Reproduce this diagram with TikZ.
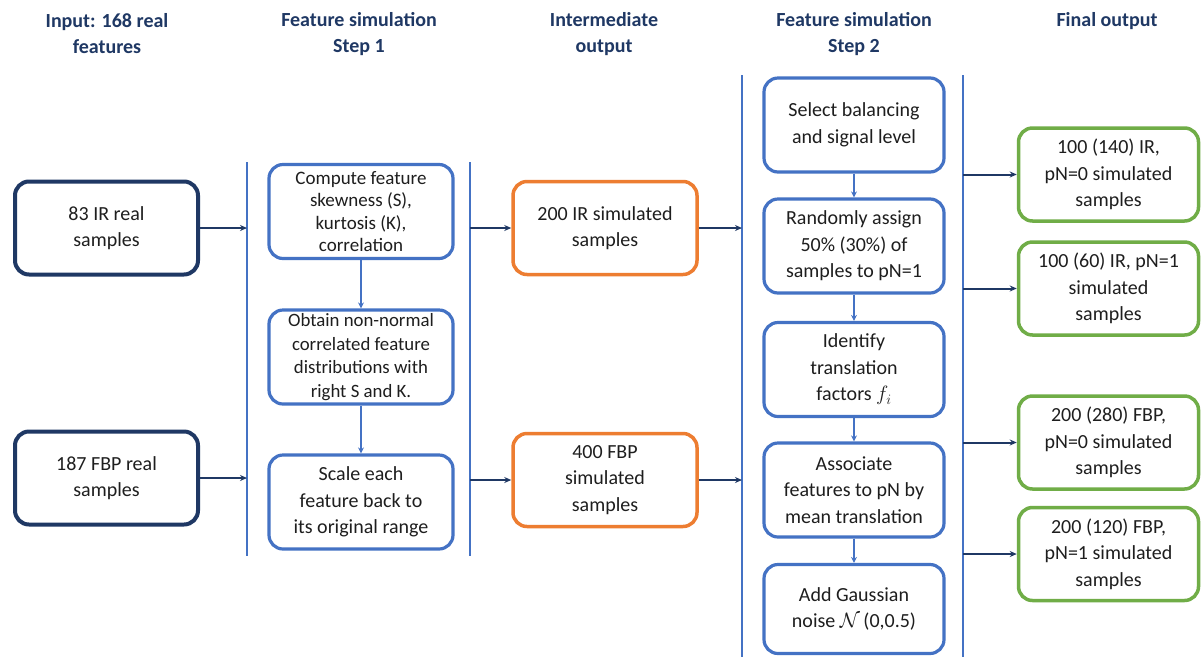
\documentclass[tikz,border=0pt]{standalone}
\usepackage{fontspec}
\setmainfont{Carlito}
\usetikzlibrary{arrows.meta}
\definecolor{navy}{HTML}{1F3864}
\definecolor{stepblue}{HTML}{4472C4}
\definecolor{simorange}{HTML}{ED7D31}
\definecolor{outgreen}{HTML}{70AD47}
\definecolor{txt}{HTML}{1E1E1E}
\begin{document}
\begin{tikzpicture}[x=1pt,y=-1pt,
  box/.style={draw, rounded corners=14pt, align=center, text=txt, inner sep=2pt,
    font=\fontsize{20}{26.5}\selectfont},
  inbox/.style={box, draw=navy, line width=4pt, minimum width=183pt, minimum height=93pt},
  stepbox/.style={box, draw=stepblue, line width=3.2pt, minimum width=184pt, minimum height=94pt},
  simbox/.style={box, draw=simorange, line width=3.5pt, minimum width=184pt, minimum height=93pt},
  outbox/.style={box, draw=outgreen, line width=3.5pt, minimum width=180pt, minimum height=93pt},
  smalltext/.style={font=\fontsize{19}{22.5}\selectfont},
  header/.style={align=center, text=navy, font=\fontsize{20}{26}\selectfont\bfseries},
  sep/.style={stepblue, line width=1.5pt},
  harrow/.style={navy, line width=2pt, -{Stealth[length=7pt,width=6pt]}},
  varrow/.style={stepblue, line width=1.5pt, -{Stealth[length=6pt,width=6pt]}}
]
\fill[white] (0,0) rectangle (1201,657);
\useasboundingbox (0,0) rectangle (1201,657);

% column headings
\node[header] (h1) at (107,34) {Input: 168 real\\features};
\node[header] (h2) at (359,34) {Feature simulation\\Step 1};
\node[header] (h3) at (604,34) {Intermediate\\output};
\node[header] (h4) at (854,34) {Feature simulation\\Step 2};
\node[header] (h5) at (1107,21) {Final output};

% column separators
\coordinate (l1t) at (247,162); \coordinate (l1b) at (247,556);
\coordinate (l2t) at (470,162); \coordinate (l2b) at (470,556);
\coordinate (l3t) at (742,75);  \coordinate (l3b) at (742,657);
\coordinate (l4t) at (963,75);  \coordinate (l4b) at (963,657);
\draw[sep] (l1t) -- (l1b);
\draw[sep] (l2t) -- (l2b);
\draw[sep] (l3t) -- (l3b);
\draw[sep] (l4t) -- (l4b);

% input samples
\node[inbox] (in1) at (106.5,228) {83 IR real\\samples};
\node[inbox] (in2) at (106.5,478) {187 FBP real\\samples};

% step 1
\node[stepbox, smalltext] (s1a) at (361,211.5) {Compute feature\\skewness (S),\\kurtosis (K),\\correlation};
\node[stepbox, font=\fontsize{18.8}{23.5}\selectfont] (s1b) at (361,357) {Obtain non-normal\\correlated feature\\distributions with\\right S and K.};
\node[stepbox] (s1c) at (361,502) {Scale each\\feature back to\\its original range};

% intermediate output
\node[simbox] (o1) at (605,228) {200 IR simulated\\samples};
\node[simbox] (o2) at (605,480) {400 FBP\\simulated\\samples};

% step 2
\node[stepbox, minimum width=180pt] (s2a) at (854,125) {Select balancing\\and signal level};
\node[stepbox, minimum width=180pt] (s2b) at (854,246) {Randomly assign\\50\% (30\%) of\\samples to pN=1};
\node[stepbox, minimum width=180pt] (s2c) at (854,369.5) {Identify\\translation\\factors $f_i$};
\node[stepbox, minimum width=180pt] (s2d) at (854,490) {Associate\\features to pN by\\mean translation};
\node[stepbox, minimum width=180pt, minimum height=89pt] (s2e) at (854,609) {Add Gaussian\\noise $\mathcal{N}\,$(0,0.5)};

% final output
\node[outbox] (g1) at (1108.5,174.5) {100 (140) IR,\\pN=0 simulated\\samples};
\node[outbox] (g2) at (1108.5,288.5) {100 (60) IR, pN=1\\simulated\\samples};
\node[outbox] (g3) at (1108.5,442.5) {200 (280) FBP,\\pN=0 simulated\\samples};
\node[outbox] (g4) at (1108.5,554) {200 (120) FBP,\\pN=1 simulated\\samples};

% flow between columns
\draw[harrow] (in1.east) -- (in1.east -| l1t);
\draw[harrow] (in2.east) -- (in2.east -| l1t);
\draw[harrow] (o1.west -| l2t) -- (o1.west);
\draw[harrow] (o2.west -| l2t) -- (o2.west);
\draw[harrow] (o1.east) -- (o1.east -| l3t);
\draw[harrow] (o2.east) -- (o2.east -| l3t);
\draw[harrow] (g1.west -| l4t) -- (g1.west);
\draw[harrow] (g2.west -| l4t) -- (g2.west);
\draw[harrow] (g3.west -| l4t) -- (g3.west);
\draw[harrow] (g4.west -| l4t) -- (g4.west);

% flow within steps
\draw[varrow] (s1a) -- (s1b);
\draw[varrow] (s1b) -- (s1c);
\draw[varrow] (s2a) -- (s2b);
\draw[varrow] (s2b) -- (s2c);
\draw[varrow] (s2c) -- (s2d);
\draw[varrow] (s2d) -- (s2e);
\end{tikzpicture}
\end{document}
